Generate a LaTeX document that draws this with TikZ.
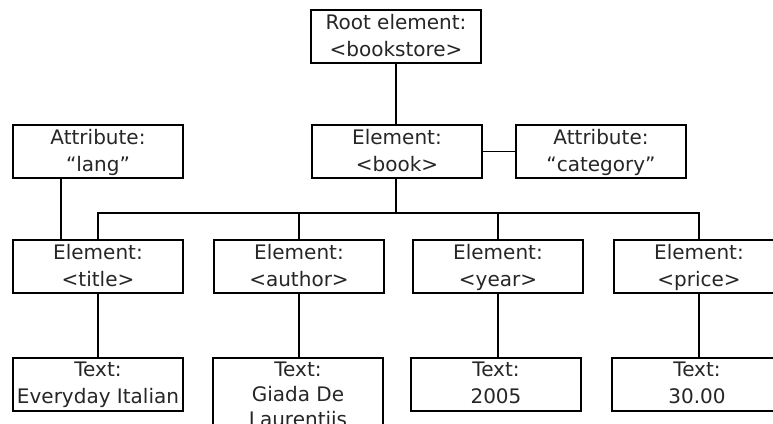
\documentclass[tikz,border=0pt]{standalone}
\usepackage{fontspec}
\setmainfont{DejaVu Sans}
% one line of box text: fixed height and depth so every box sets alike
\newcommand{\lnstrut}{\rule[-7pt]{0pt}{26pt}}
\begin{document}
\begin{tikzpicture}[x=1pt,y=-1pt,
  box/.style={draw=black, line width=1.6pt, fill=white, minimum width=170pt,
    minimum height=49pt, inner xsep=1pt, inner ysep=0pt, align=center,
    text=black!85, font=\fontsize{20}{23}\selectfont},
  txtbox/.style={box, anchor=north},
  link/.style={draw=black, line width=1.6pt}]
\useasboundingbox (0,0) rectangle (773,423);
\clip (0,0) rectangle (773,423);

% root and book level
\node[box] (root) at (396,36.5) {\lnstrut Root element:\\\lnstrut <bookstore>};
\node[box] (book) at (397,151.5) {\lnstrut Element:\\\lnstrut <book>};
\node[box] (lang) at (98,151.5) {\lnstrut Attribute:\\\lnstrut “lang”};
\node[box] (cat) at (601,151.5) {\lnstrut Attribute:\\\lnstrut “category”};

% child elements of book
\node[box] (title)  at (98,266.5)  {\lnstrut Element:\\\lnstrut <title>};
\node[box] (author) at (299,266.5) {\lnstrut Element:\\\lnstrut <author>};
\node[box] (year)   at (498,266.5) {\lnstrut Element:\\\lnstrut <year>};
\node[box] (price)  at (699,266.5) {\lnstrut Element:\\\lnstrut <price>};

% text nodes
\node[txtbox] (t1) at (98,357)  {\lnstrut Text:\\\lnstrut Everyday Italian};
\node[txtbox] (t2) at (298,357) {\lnstrut Text:\\[-2pt]\lnstrut Giada De\\[-2pt]\lnstrut Laurentiis};
\node[txtbox] (t3) at (496,357) {\lnstrut Text:\\\lnstrut 2005};
\node[txtbox] (t4) at (697,357) {\lnstrut Text:\\\lnstrut 30.00};

% connectors
\coordinate (bus) at (0,213);
\draw[link] (root.south) -- (root.south |- book.north);
\draw[link] (book.east) -- (cat.west);
\draw[link] ([xshift=-37pt]lang.south) -- ([xshift=-37pt]title.north);
\draw[link] (root.south |- book.south) -- (root.south |- bus);
\draw[link] (title.north) -- (title.north |- bus) -- (price.north |- bus) -- (price.north);
\draw[link] (author.north) -- (author.north |- bus);
\draw[link] (year.north) -- (year.north |- bus);
\draw[link] (title.south) -- (title.south |- t1.north);
\draw[link] (author.south) -- (author.south |- t2.north);
\draw[link] (year.south) -- (year.south |- t3.north);
\draw[link] (price.south) -- (price.south |- t4.north);
\end{tikzpicture}
\end{document}
